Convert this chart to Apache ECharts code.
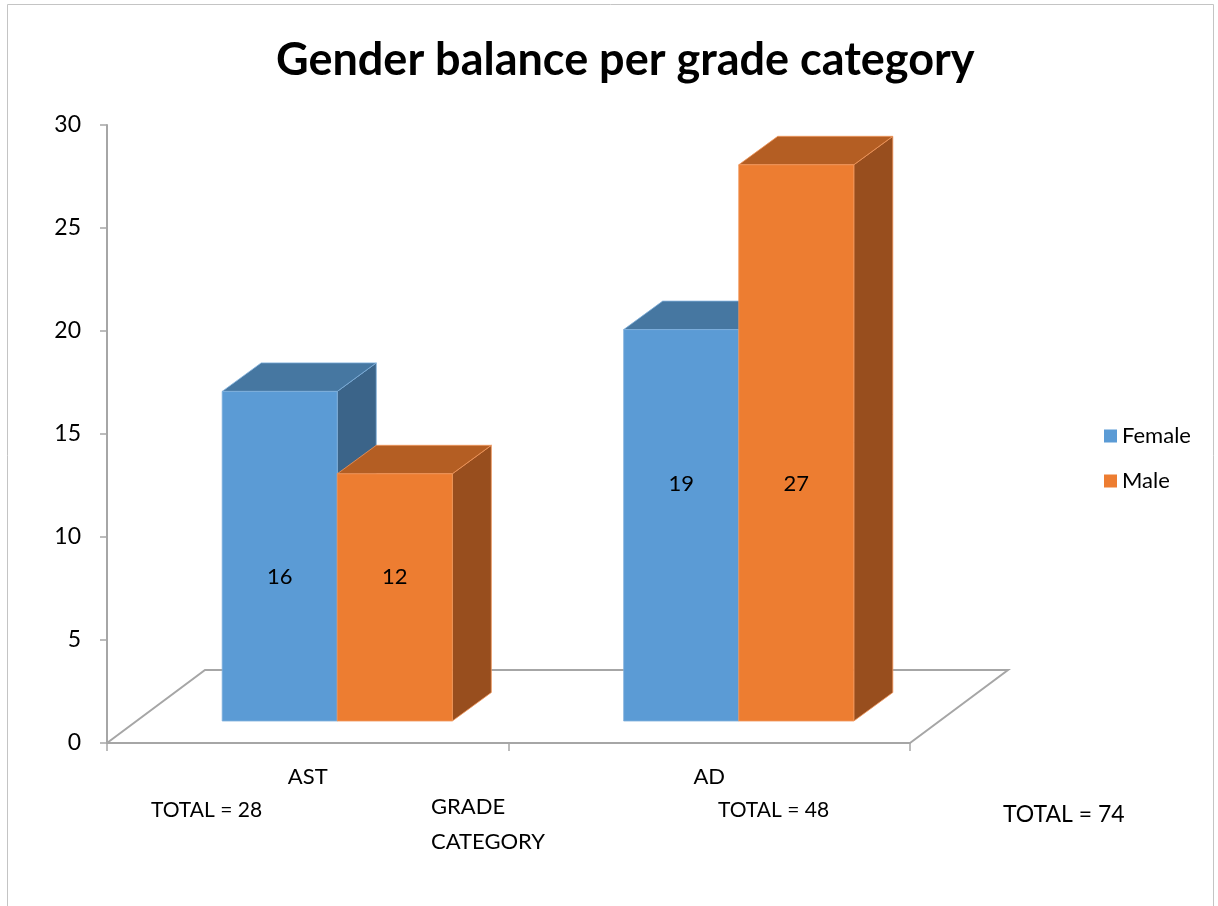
<!DOCTYPE html>
<html>
<head>
<meta charset="utf-8">
<script src="https://cdn.jsdelivr.net/npm/echarts@6/dist/echarts.min.js"></script>
<style>
  html, body { margin: 0; padding: 0; background: #fff; }
  #chart { width: 1218px; height: 906px; }
</style>
</head>
<body>
<div id="chart"></div>
<script>
const categories = ['AST', 'AD']
const female = [16, 19]
const male = [12, 27]
// totals as printed on the original chart
const categoryTotals = [28, 48]
const grandTotal = 74
const yMin = 0
const yMax = 30
const yStep = 5

const FONT = 'Lato'
// fake 3d projection (pixels)
const FLOOR_DX = 98
const FLOOR_DY = 73
const BAR_DX = 39
const BAR_DY = 28.5
const BAR_OFF_X = 29.5
const BAR_OFF_Y = 22

const faceColors = {
  Female: { front: '#5b9bd5', top: '#4677a1', side: '#3b6489', edge: '#7fb0dc' },
  Male: { front: '#ed7d31', top: '#b45e23', side: '#984e1e', edge: '#f0965a' }
}

const makeBarRender = (name, slot) => (params, api) => {
  const cat = api.value(0)
  const val = api.value(1)
  const base = api.coord([cat, 0])
  const top = api.coord([cat, val])
  // labels of one category sit at the same height
  const labelY = api.coord([cat, (female[cat] + male[cat]) / 4])[1] - BAR_OFF_Y
  const catW = api.size([1, 0])[0]
  const barW = catW * 0.2866
  const x0 = base[0] - barW + slot * barW + BAR_OFF_X
  const x1 = x0 + barW
  const yb = base[1] - BAR_OFF_Y
  const yt = top[1] - BAR_OFF_Y
  const c = faceColors[name]
  const edge = { stroke: c.edge, lineWidth: 0.8 }
  return {
    type: 'group',
    children: [
      {
        type: 'polygon',
        shape: { points: [[x1, yb], [x1 + BAR_DX, yb - BAR_DY], [x1 + BAR_DX, yt - BAR_DY], [x1, yt]] },
        style: Object.assign({ fill: c.side }, edge)
      },
      {
        type: 'polygon',
        shape: { points: [[x0, yt], [x1, yt], [x1 + BAR_DX, yt - BAR_DY], [x0 + BAR_DX, yt - BAR_DY]] },
        style: Object.assign({ fill: c.top }, edge)
      },
      {
        type: 'rect',
        shape: { x: x0, y: yt, width: barW, height: yb - yt },
        style: Object.assign({ fill: c.front }, edge)
      },
      {
        type: 'text',
        style: {
          text: String(val),
          x: (x0 + x1) / 2,
          y: labelY,
          align: 'center',
          verticalAlign: 'middle',
          fill: '#000',
          font: '22px ' + FONT
        }
      }
    ]
  }
}

const renderFloor = (params, api) => {
  const cs = params.coordSys
  const fl = [cs.x, cs.y + cs.height]
  const fr = [cs.x + cs.width, cs.y + cs.height]
  const bl = [fl[0] + FLOOR_DX, fl[1] - FLOOR_DY]
  const br = [fr[0] + FLOOR_DX, fr[1] - FLOOR_DY]
  return {
    type: 'polyline',
    shape: { points: [fl, bl, br, fr] },
    style: { fill: null, stroke: '#a6a6a6', lineWidth: 2 }
  }
}

const chart = echarts.init(document.getElementById('chart'))

chart.setOption({
  backgroundColor: '#fff',
  animation: false,
  title: {
    text: 'Gender balance per grade category',
    left: 271,
    top: 33,
    textStyle: { fontFamily: FONT, fontWeight: 'bold', fontSize: 45, color: '#000' }
  },
  legend: {
    data: ['Female', 'Male'],
    orient: 'vertical',
    left: 1099,
    top: 420,
    itemWidth: 13,
    itemHeight: 13,
    itemGap: 23,
    itemTextGap: 7,
    icon: 'rect',
    textStyle: { fontFamily: FONT, fontSize: 22, color: '#000' }
  },
  grid: {
    left: 107,
    right: 308,
    top: 125,
    bottom: 163
  },
  xAxis: {
    type: 'category',
    data: categories,
    axisLine: { lineStyle: { color: '#a6a6a6', width: 2 } },
    axisTick: { show: true, length: 8, lineStyle: { color: '#a6a6a6', width: 1.5 } },
    axisLabel: { margin: 23, fontFamily: FONT, fontSize: 22, color: '#000' },
    splitLine: { show: false }
  },
  yAxis: {
    type: 'value',
    min: yMin,
    max: yMax,
    interval: yStep,
    axisLine: { show: true, lineStyle: { color: '#a6a6a6', width: 2 } },
    axisTick: { show: true, length: 7, lineStyle: { color: '#a6a6a6', width: 1.5 } },
    axisLabel: { margin: 26, fontFamily: FONT, fontSize: 23, color: '#000' },
    splitLine: { show: false }
  },
  graphic: [
    {
      type: 'rect',
      silent: true,
      shape: { x: 7.5, y: 4.5, width: 1206, height: 940 },
      style: { fill: null, stroke: '#c4c4c4', lineWidth: 1 }
    },
    {
      type: 'text',
      left: 431,
      top: 789,
      style: { text: 'GRADE\nCATEGORY', font: '22px ' + FONT, fill: '#000', lineHeight: 35 }
    },
    {
      type: 'text',
      left: 151,
      top: 800,
      style: { text: 'TOTAL = ' + categoryTotals[0], font: '21px ' + FONT, fill: '#000' }
    },
    {
      type: 'text',
      left: 718,
      top: 800,
      style: { text: 'TOTAL = ' + categoryTotals[1], font: '21px ' + FONT, fill: '#000' }
    },
    {
      type: 'text',
      left: 1003,
      top: 803,
      style: { text: 'TOTAL = ' + grandTotal, font: '23px ' + FONT, fill: '#000' }
    }
  ],
  series: [
    {
      name: 'floor',
      type: 'custom',
      silent: true,
      z: 1,
      renderItem: renderFloor,
      data: [[0, 0]]
    },
    {
      name: 'Female',
      type: 'custom',
      z: 2,
      itemStyle: { color: faceColors.Female.front },
      renderItem: makeBarRender('Female', 0),
      encode: { x: 0, y: 1 },
      data: categories.map((c, i) => [i, female[i]])
    },
    {
      name: 'Male',
      type: 'custom',
      z: 2,
      itemStyle: { color: faceColors.Male.front },
      renderItem: makeBarRender('Male', 1),
      encode: { x: 0, y: 1 },
      data: categories.map((c, i) => [i, male[i]])
    }
  ]
})

window.addEventListener('resize', () => chart.resize())
</script>
</body>
</html>
